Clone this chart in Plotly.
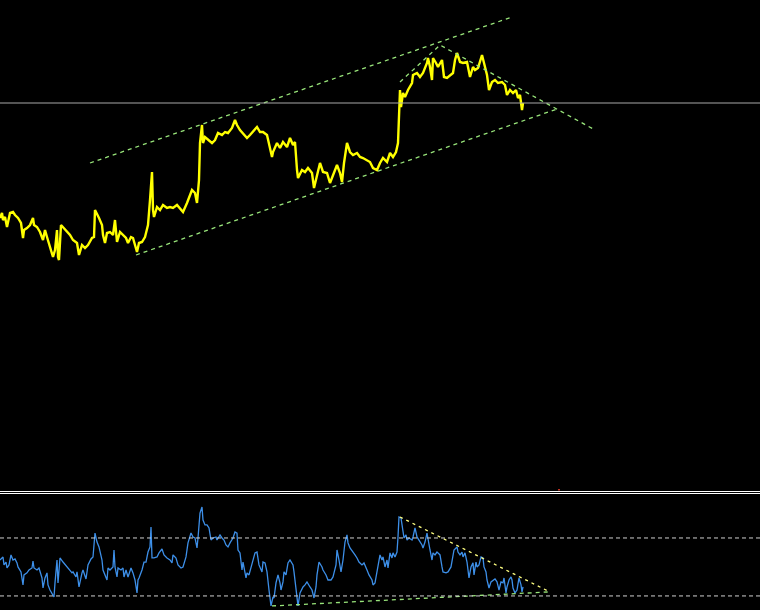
import plotly.graph_objects as go

# ---- Price series (bar index, price) ----
price_x = [0,2,3,5,7,8,10,13,15,18,21,23,24,27,30,33,34,37,40,43,45,47,50,53,55,57,58,59,61,63,67,70,73,77,79,82,85,88,92,94,95,97,99,102,103,105,107,110,113,115,117,120,123,126,128,131,133,137,139,142,145,148,
           150,152,153,154,157,160,163,167,170,173,177,180,183,187,190,192,195,197,199,200,202,203,205,208,212,215,218,222,225,228,232,235,237,240,243,247,250,253,257,260,263,267,270,272,273,277,
           280,283,287,290,293,295,297,298,302,305,308,312,314,317,320,323,327,330,333,337,340,342,344,347,350,353,357,360,363,367,370,373,377,380,383,387,390,393,396,398,399,
           400,401,402,403,405,408,412,413,417,420,423,427,428,430,432,433,436,438,442,444,447,450,453,455,457,460,463,467,470,473,475,478,482,484,487,489,492,495,498,502,505,507,510,513,516,518,520,522,523]
price_y = [1.0885,1.0890,1.0883,1.0886,1.0876,1.0881,1.0890,1.0891,1.0888,1.0885,1.0880,1.0865,1.0873,1.0875,1.0878,1.0885,1.0878,1.0876,1.0871,1.0863,1.0873,1.0866,1.0855,1.0846,1.0853,1.0873,1.0846,1.0843,1.0878,1.0876,1.0871,1.0868,1.0863,1.0860,1.0848,1.0858,1.0855,1.0858,1.0865,1.0866,1.0893,1.0888,1.0885,1.0878,1.0868,1.0860,1.0870,1.0871,1.0868,1.0883,1.0861,1.0871,1.0868,1.0865,1.0860,1.0866,1.0865,1.0851,1.0860,1.0861,1.0866,1.0878,
           1.0903,1.0931,1.0893,1.0886,1.0896,1.0893,1.0898,1.0895,1.0896,1.0895,1.0898,1.0895,1.0891,1.0900,1.0908,1.0913,1.0910,1.0900,1.0923,1.0960,1.0978,1.0960,1.0966,1.0963,1.0960,1.0963,1.0970,1.0968,1.0971,1.0970,1.0975,1.0983,1.0978,1.0973,1.0970,1.0965,1.0968,1.0971,1.0976,1.0971,1.0971,1.0968,1.0956,1.0946,1.0951,1.0960,
           1.0955,1.0961,1.0956,1.0965,1.0958,1.0961,1.0933,1.0925,1.0933,1.0931,1.0935,1.0930,1.0915,1.0928,1.0940,1.0931,1.0930,1.0920,1.0928,1.0938,1.0930,1.0921,1.0940,1.0960,1.0951,1.0948,1.0950,1.0946,1.0945,1.0943,1.0941,1.0935,1.0933,1.0940,1.0945,1.0941,1.0950,1.0946,1.0951,1.0960,1.0983,
           1.1013,1.0996,1.1003,1.1010,1.1006,1.1013,1.1020,1.1028,1.1030,1.1026,1.1030,1.1040,1.1045,1.1036,1.1023,1.1045,1.1040,1.1036,1.1043,1.1026,1.1025,1.1028,1.1030,1.1043,1.1050,1.1041,1.1040,1.1041,1.1026,1.1036,1.1033,1.1035,1.1048,1.1040,1.1028,1.1013,1.1021,1.1023,1.1020,1.1021,1.1018,1.1008,1.1013,1.1010,1.1013,1.1005,1.1008,1.0993,1.1000]

# ---- Oscillator series (RSI-like) ----
osc_x = [0,3,4,6,7,9,11,13,15,17,18,21,23,24,27,29,32,33,34,37,39,42,43,45,47,48,50,53,54,55,57,58,60,63,67,69,72,73,76,77,79,82,83,86,88,91,93,95,97,99,102,103,105,107,108,110,113,114,115,117,118,121,123,124,126,128,131,133,135,137,138,139,142,144,146,148,150,151,152,154,157,159,162,164,167,170,172,173,176,178,181,183,186,188,191,193,195,197,198,200,202,203,205,207,209,211,213,216,217,220,222,224,226,228,230,233,235,237,238,240,242,243,246,247,249,252,253,255,257,259,262,
         263,265,267,269,271,273,274,276,278,280,281,283,284,286,288,290,293,294,296,297,298,300,303,305,307,310,312,314,316,317,319,322,323,326,328,331,333,336,337,339,341,343,345,347,348,350,353,355,357,359,362,364,367,369,372,373,375,377,378,380,382,383,385,387,388,390,392,393,395,397,398,399,401,403,404,406,407,409,412,413,415,417,419,422,423,425,427,428,430,432,433,435,437,438,440,442,443,446,448,451,453,454,457,458,460,462,463,465,467,468,469,471,473,474,476,477,479,481,483,484,486,487,489,491,493,495,497,499,501,503,504,506,507,509,511,512,513,515,517,518,519,521,522,523]
osc_y = [54.8,56.9,51.4,53.4,49.3,51.4,58.3,54.8,55.5,52.8,50.0,46.6,37.6,44.5,45.9,47.9,49.3,54.1,49.3,47.9,49.3,42.4,35.5,42.4,45.9,37.6,34.1,30.7,29.3,39.0,54.8,39.0,56.2,53.4,50.0,47.9,45.9,46.6,43.1,46.6,36.2,45.9,47.9,41.7,51.4,55.5,56.9,73.4,67.2,63.8,54.8,47.9,44.5,41.0,49.3,47.9,50.0,61.7,50.0,43.1,49.3,47.9,49.3,43.1,47.9,43.1,49.3,45.9,41.0,32.1,41.0,42.4,47.9,53.4,53.4,60.3,63.8,77.6,56.2,56.2,56.9,59.7,62.4,58.3,56.2,54.8,52.8,58.3,56.2,51.4,49.3,50.0,56.9,66.6,73.4,70.7,70.0,63.1,70.0,87.2,91.4,82.4,79.0,79.0,76.9,68.6,70.0,70.7,68.6,72.1,70.0,68.6,65.2,63.8,66.6,70.0,74.1,73.4,61.7,59.7,47.9,53.4,42.4,45.9,44.5,51.4,53.4,59.7,60.3,51.4,46.6,
         53.4,52.8,46.6,34.1,23.1,29.3,28.6,39.0,44.5,39.0,34.1,39.7,46.6,44.5,52.8,54.8,51.4,46.6,35.5,25.9,23.1,32.1,36.2,37.6,39.7,36.2,34.1,28.6,36.2,44.5,53.4,50.0,47.9,44.5,41.0,41.0,43.1,51.4,61.7,54.8,46.6,54.8,67.2,72.1,66.6,63.1,59.7,58.3,56.2,53.4,51.4,52.8,47.9,44.5,41.0,37.6,39.0,45.9,51.4,58.3,54.8,56.9,50.0,54.8,49.3,59.7,56.2,59.7,56.9,60.3,70.7,84.5,83.8,74.1,70.0,72.1,68.6,70.0,68.6,70.7,76.9,70.7,68.6,65.2,63.1,67.2,73.4,68.6,61.7,54.8,59.7,58.3,60.3,59.7,58.3,50.0,46.6,45.9,46.6,50.0,58.3,61.7,63.8,60.3,58.3,60.3,56.9,59.7,53.4,47.9,42.4,50.0,52.8,44.5,53.4,50.0,51.4,56.9,56.2,50.0,46.6,41.0,35.5,39.7,41.0,41.7,39.7,34.1,39.7,39.0,42.4,32.1,36.2,41.0,43.1,41.0,35.5,32.1,34.1,39.7,42.4,37.6,32.8,36.2]

# ---- Drawn trend lines ----
chan_up_x, chan_up_y = [90, 512], [1.0940, 1.1086]
chan_lo_x, chan_lo_y = [136, 557], [1.0848, 1.0994]
zig_x, zig_y = [400, 440, 595], [1.1021, 1.1058, 1.0973]
level_price = 1.1000
osc_levels = [70, 30]
osc_res_x, osc_res_y = [400, 548], [84.5, 33.4]
osc_sup_x, osc_sup_y = [272, 550], [23.1, 32.8]

GREEN = "#98e47a"
DASH = "4px,4px"

fig = go.Figure()
fig.add_trace(go.Scatter(x=price_x, y=price_y, mode="lines",
                         line=dict(color="#ffff00", width=2.4), yaxis="y", hoverinfo="skip"))
for xs, ys in [(chan_up_x, chan_up_y), (chan_lo_x, chan_lo_y), (zig_x, zig_y)]:
    fig.add_trace(go.Scatter(x=xs, y=ys, mode="lines",
                             line=dict(color=GREEN, width=1.3, dash=DASH), yaxis="y", hoverinfo="skip"))

fig.add_trace(go.Scatter(x=osc_x, y=osc_y, mode="lines",
                         line=dict(color="#3d8fe8", width=1.3), yaxis="y2", xaxis="x", hoverinfo="skip"))
fig.add_trace(go.Scatter(x=osc_res_x, y=osc_res_y, mode="lines",
                         line=dict(color="#ffff80", width=1.3, dash="3px,4px"), yaxis="y2", hoverinfo="skip"))
fig.add_trace(go.Scatter(x=osc_sup_x, y=osc_sup_y, mode="lines",
                         line=dict(color=GREEN, width=1.3, dash=DASH), yaxis="y2", hoverinfo="skip"))

shapes = [
    dict(type="line", xref="paper", x0=0, x1=1, yref="y", y0=level_price, y1=level_price,
         line=dict(color="#a8a8a8", width=1)),
    dict(type="line", xref="paper", x0=0, x1=1, yref="paper", y0=1 - 491.5/610, y1=1 - 491.5/610,
         line=dict(color="#ffffff", width=1)),
    dict(type="line", xref="paper", x0=0, x1=1, yref="paper", y0=1 - 493.5/610, y1=1 - 493.5/610,
         line=dict(color="#ffffff", width=1)),
    dict(type="rect", xref="x", x0=558, x1=560, yref="paper", y0=1 - 490.5/610, y1=1 - 489/610,
         line=dict(width=0), fillcolor="#c03020"),
]
for lv in osc_levels:
    shapes.append(dict(type="line", xref="paper", x0=0, x1=1, yref="y2", y0=lv, y1=lv,
                       line=dict(color="#d0d0d0", width=1, dash="4px,3px")))

ax = dict(showgrid=False, zeroline=False, showticklabels=False, showline=False, ticks="")
fig.update_layout(
    width=760, height=610, margin=dict(l=0, r=0, t=0, b=0),
    paper_bgcolor="#000000", plot_bgcolor="#000000",
    showlegend=False, hovermode=False,
    xaxis=dict(range=[0, 760], **ax),
    yaxis=dict(range=[1.0612, 1.1103], domain=[119/610, 1], **ax),
    yaxis2=dict(range=[20.3, 100], domain=[0, 115.5/610], **ax),
    shapes=shapes,
)
fig.write_html("out.html", config={"displayModeBar": False})
